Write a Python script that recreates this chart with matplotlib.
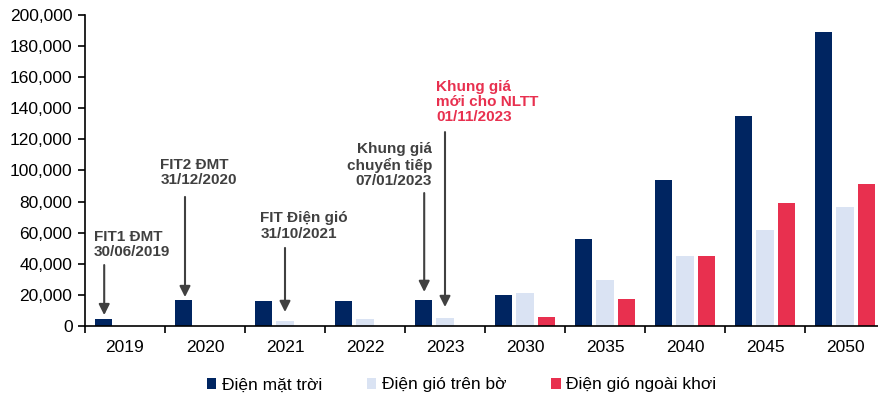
import numpy as np
import matplotlib
matplotlib.use('Agg')
import matplotlib.pyplot as plt
from matplotlib.ticker import FuncFormatter, MultipleLocator

plt.rcParams['font.family'] = ['Liberation Sans', 'DejaVu Sans']

years = ['2019', '2020', '2021', '2022', '2023', '2030', '2035', '2040', '2045', '2050']
solar = [4700, 16700, 16100, 16100, 16700, 20000, 56100, 93900, 135000, 188900]
onshore = [0, 0, 3400, 4700, 5300, 21200, 29800, 45200, 61700, 76500]
offshore = [0, 0, 0, 0, 0, 5800, 17600, 44800, 79100, 91100]
series_names = ['Điện mặt trời', 'Điện gió trên bờ', 'Điện gió ngoài khơi']
colors = ['#002561', '#dae3f3', '#e8304f']

fig = plt.figure(figsize=(8.79, 4.01), dpi=100)
ax = fig.add_axes([85/879, 75/401, 800/879, 311/401])

x = np.arange(len(years))
w = 0.22
step = 0.27
for i, (vals, c, name) in enumerate(zip([solar, onshore, offshore], colors, series_names)):
    ax.bar(x + (i - 1) * step, vals, width=w, color=c, label=name, zorder=2)

ax.set_xlim(-0.5, len(years) - 0.5)
ax.set_ylim(0, 200000)
ax.yaxis.set_major_locator(MultipleLocator(20000))
ax.yaxis.set_major_formatter(FuncFormatter(lambda v, p: f'{int(v):,}'))
ax.set_xticks(x)
ax.set_xticklabels(years)
ax.set_xticks(np.arange(-0.5, len(years)), minor=True)
ax.tick_params(axis='x', which='major', length=0, labelsize=12.5, pad=10, colors='black')
ax.tick_params(axis='x', which='minor', length=5, width=1.2, direction='out')
ax.tick_params(axis='y', length=5, width=1.2, direction='out', labelsize=12.5, pad=4)
for s in ['top', 'right']:
    ax.spines[s].set_visible(False)
for s in ['left', 'bottom']:
    ax.spines[s].set_linewidth(1.2)
    ax.spines[s].set_color('black')

grey = '#404040'
red = '#e8304f'
arrow = dict(arrowstyle='-|>', mutation_scale=16, lw=1.5, color=grey, shrinkA=0, shrinkB=0)

def note(text, tx, ty, ax_x, y0, y1, ha='left', color=grey):
    ax.annotate('', xy=(ax_x, y1), xytext=(ax_x, y0), arrowprops=arrow)
    ax.text(tx, ty, text, ha=ha, va='center', fontsize=11, fontweight='bold',
            color=color, linespacing=1.1)

note('FIT1 ĐMT\n30/06/2019', -0.39, 52400, -0.26, 39200, 7000)
note('FIT2 ĐMT\n31/12/2020', 0.44, 98700, 0.75, 83000, 18600)
note('FIT Điện gió\n31/10/2021', 1.69, 64300, 2.0, 50200, 9000)
note('Khung giá\nchuyển tiếp\n07/01/2023', 3.84, 103500, 3.74, 85500, 21900, ha='right')
note('Khung giá\nmới cho NLTT\n01/11/2023', 3.89, 144000, 4.0, 124700, 12200, color=red)

fig.legend(loc='center', bbox_to_anchor=(0.525, 0.04), ncol=3, frameon=False,
           fontsize=12.5, handlelength=0.55, handleheight=0.55, handletextpad=0.3,
           columnspacing=2.6)

fig.savefig('out.png', dpi=100)
